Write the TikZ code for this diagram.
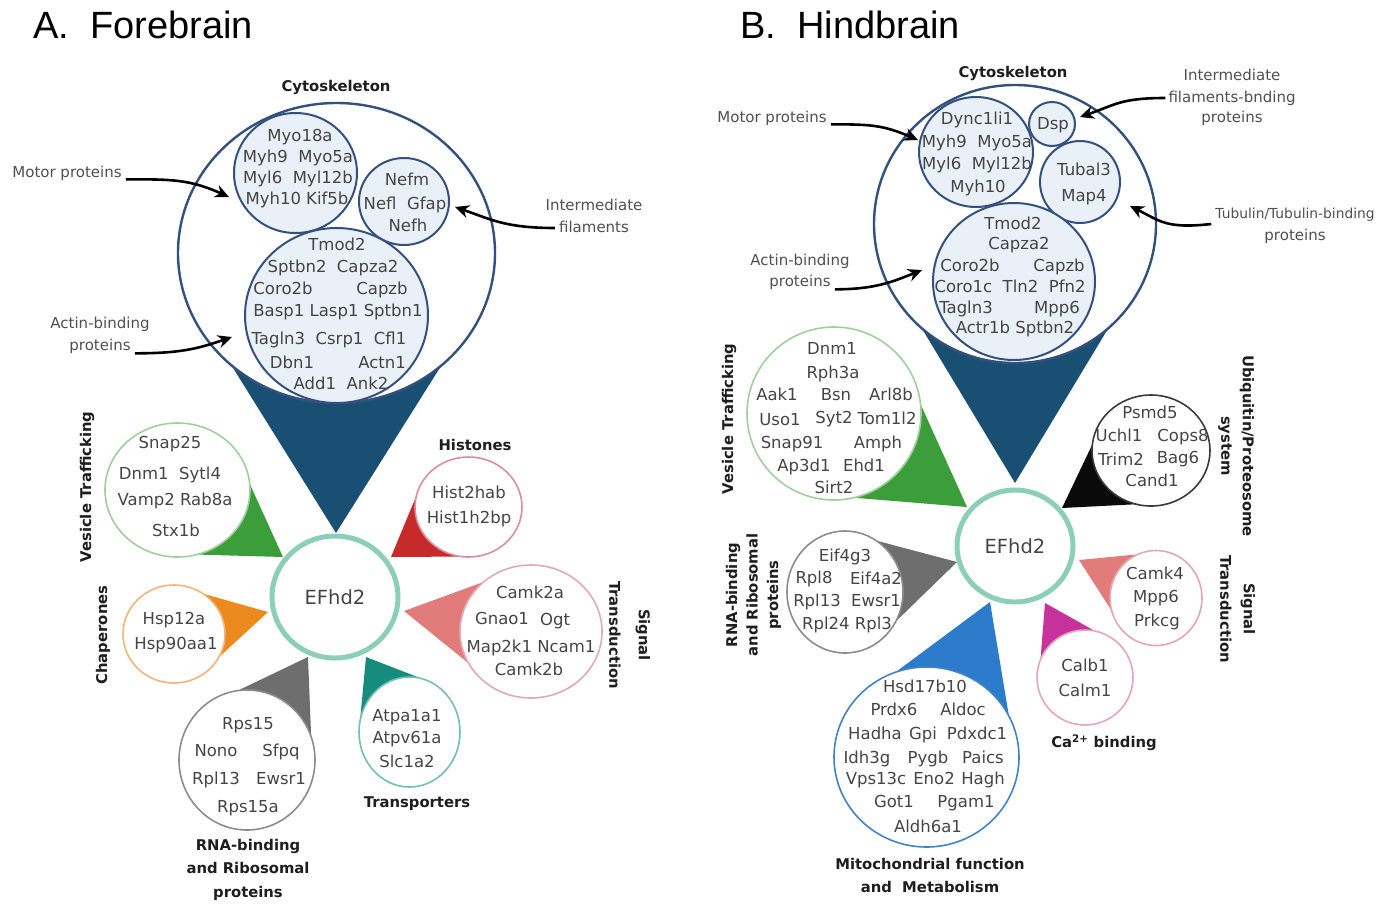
\documentclass[tikz,border=0pt]{standalone}
\usepackage{fontspec}
\setmainfont{DejaVu Sans}
\newfontfamily\ttlfont{Liberation Sans}
\usetikzlibrary{arrows.meta,calc,shapes.geometric}

\definecolor{cytline}{HTML}{34507E}
\definecolor{cytfill}{HTML}{E9F0F8}
\definecolor{cytblue}{HTML}{1A4F74}
\definecolor{efline}{HTML}{8CCFB8}
\definecolor{genetxt}{HTML}{454545}
\definecolor{lbltxt}{HTML}{505050}
\definecolor{cattxt}{HTML}{1E1E1E}
\definecolor{vesline}{HTML}{9FCF9A}
\definecolor{vesfill}{HTML}{3C9E3A}
\definecolor{hisline}{HTML}{D9909C}
\definecolor{hisfill}{HTML}{C62A2A}
\definecolor{sigline}{HTML}{E2A9B3}
\definecolor{sigfill}{HTML}{E27C7A}
\definecolor{chaline}{HTML}{F1B57A}
\definecolor{chafill}{HTML}{EC8A1E}
\definecolor{rnaline}{HTML}{8C8C8C}
\definecolor{rnafill}{HTML}{6E6E6E}
\definecolor{traline}{HTML}{74C0B2}
\definecolor{trafill}{HTML}{168C7E}
\definecolor{ubiline}{HTML}{3A3A3A}
\definecolor{ubifill}{HTML}{0A0A0A}
\definecolor{caline}{HTML}{E3A6BE}
\definecolor{cafill}{HTML}{C8329C}
\definecolor{mitline}{HTML}{4282C6}
\definecolor{mitfill}{HTML}{2C7CCB}

\tikzset{
 gene/.style={font=\fontsize{16.5}{19}\selectfont, text=genetxt, inner sep=0pt, anchor=base, yshift=-6pt},
 lbl/.style={font=\fontsize{15}{18}\selectfont, text=lbltxt, inner sep=0pt, anchor=base, yshift=-5pt},
 cat/.style={font=\bfseries\fontsize{14.8}{18}\selectfont, text=cattxt, inner sep=0pt, anchor=base, yshift=-5.5pt},
 catr/.style={font=\bfseries\fontsize{14.8}{18}\selectfont, text=cattxt, inner sep=0pt},
 ttl/.style={font=\ttlfont\fontsize{38}{44}\selectfont, text=black, inner sep=0pt, anchor=base west},
 grpc/.style={ellipse, fill=white, inner sep=0pt, outer sep=0pt},
 sub/.style={ellipse, fill=cytfill, draw=cytline, line width=2pt, inner sep=0pt, outer sep=0pt},
 ef/.style={ellipse, fill=white, draw=efline, line width=5pt, inner sep=0pt, outer sep=0pt, font=\fontsize{19.5}{22}\selectfont, text=genetxt},
 ptr/.style={draw=black, line width=2.6pt, -{Stealth[length=14pt,width=13pt]}},
 thin1/.style={line width=1.6pt},
}

\newcounter{gl}
\newcommand\gtx[3]{\stepcounter{gl}\node[gene] (g\arabic{gl}) at (#1,#2) {#3};}

% name, cx, cy, rx, ry, circle options, wedge colour, tip x, tip y ; \wgk = opening factor
\def\wgk{0.72}
\newcommand\grp[9]{%
  \pgfmathsetmacro\wgux{((#8)-(#2))/(#4)}%
  \pgfmathsetmacro\wguy{((#9)-(#3))/(#5)}%
  \pgfmathsetmacro\wgt{atan2(\wguy,\wgux)}%
  \pgfmathsetmacro\wga{\wgk*acos(1/sqrt(\wgux*\wgux+\wguy*\wguy))}%
  \fill[#7] (#8,#9) -- ($(#2,#3)+(\wgt+\wga:#4 and #5)$) -- ($(#2,#3)+(\wgt-\wga:#4 and #5)$) -- cycle;%
  \node[grpc,#6,minimum width=2*#4pt,minimum height=2*#5pt] (#1) at (#2,#3) {};%
}

\begin{document}
\begin{tikzpicture}[x=1pt,y=-1pt]
\useasboundingbox (0,0) rectangle (1394,903);
\fill[white] (0,0) rectangle (1394,903);

% ================= Panel A =================
\node[ttl] (ttlA) at (33,38) {A.\ \ Forebrain};

\grp{cytA}{336.5}{253}{158.5}{150}{draw=cytline, line width=2.4pt}{cytblue}{336}{533}
\node[sub, minimum width=123pt, minimum height=120pt] (motA) at (295.5,173) {};
\node[sub, minimum width=90pt, minimum height=87pt] (ifA) at (404,201.5) {};
\node[sub, minimum width=183pt, minimum height=175pt] (actA) at (336.5,315.5) {};

\grp{vesA}{177.5}{490}{72.5}{67}{draw=vesline, thin1}{vesfill}{283}{557}
\def\wgk{0.86}
\grp{hisA}{468.5}{507}{53.5}{50}{draw=hisline, thin1}{hisfill}{391}{557}
\def\wgk{0.68}
\grp{sigA}{531}{631.5}{71}{66.5}{draw=sigline, thin1}{sigfill}{404}{611}
\def\wgk{0.72}
\grp{chaA}{174}{634}{51}{49}{draw=chaline, thin1}{chafill}{268}{612}
\grp{rnaA}{247}{760}{68}{70}{draw=rnaline, thin1}{rnafill}{308}{657}
\def\wgk{0.9}
\grp{traA}{409.5}{732}{50.5}{55}{draw=traline, thin1}{trafill}{366}{657}
\def\wgk{0.72}

\node[ef, minimum width=126pt, minimum height=122pt] (efA) at (335,597) {EFhd2};

% texts A
\gtx{300}{135}{Myo18a}
\gtx{298}{156}{Myh9\ \ Myo5a}
\gtx{298}{177}{Myl6\ \ Myl12b}
\gtx{297}{198}{Myh10 Kif5b}
\gtx{407}{179}{Nefm}
\gtx{405}{203}{Nefl\ \ Gfap}
\gtx{408}{225}{Nefh}
\gtx{337}{244}{Tmod2}
\gtx{333}{266}{Sptbn2\ \ Capza2}
\gtx{283}{288}{Coro2b}
\gtx{382}{288}{Capzb}
\gtx{338}{310}{Basp1 Lasp1 Sptbn1}
\gtx{329}{338}{Tagln3\ \ Csrp1\ \ Cfl1}
\gtx{292}{362}{Dbn1}
\gtx{382}{362}{Actn1}
\gtx{341}{383}{Add1\ \ Ank2}

\gtx{170}{442}{Snap25}
\gtx{170}{473}{Dnm1\ \ Sytl4}
\gtx{175}{499}{Vamp2\ Rab8a}
\gtx{176}{530}{Stx1b}

\gtx{469}{492}{Hist2hab}
\gtx{469}{517}{Hist1h2bp}

\gtx{530}{592}{Camk2a}
\gtx{502}{618}{Gnao1}
\gtx{555}{619}{Ogt}
\gtx{531}{646}{Map2k1 Ncam1}
\gtx{529}{669}{Camk2b}

\gtx{174}{618}{Hsp12a}
\gtx{176}{643}{Hsp90aa1}

\gtx{248}{723}{Rps15}
\gtx{216}{750}{Nono}
\gtx{281}{750}{Sfpq}
\gtx{216}{778}{Rpl13}
\gtx{281}{778}{Ewsr1}
\gtx{248}{806}{Rps15a}

\gtx{407}{715}{Atpa1a1}
\gtx{407}{737}{Atpv61a}
\gtx{407}{761}{Slc1a2}

% category labels A
\node[cat] (cytlA) at (336,86) {Cytoskeleton};
\node[cat] (hislA) at (475,445) {Histones};
\node[cat] (tralA) at (417,802) {Transporters};
\node[cat] (rnal1A) at (248,845) {RNA-binding};
\node[cat] (rnal2A) at (248,868) {and Ribosomal};
\node[cat] (rnal3A) at (248,892) {proteins};
\node[catr, rotate=90] (veslA) at (87,487) {Vesicle Trafficking};
\node[catr, rotate=90] (chalA) at (103,635) {Chaperones};
\node[catr, rotate=-90] (sigl1A) at (643,635) {Signal};
\node[catr, rotate=-90] (sigl2A) at (615,635) {Transduction};

% pointer labels A
\node[lbl] (motlA) at (67,172) {Motor proteins};
\node[lbl] (ifl1A) at (594,205) {Intermediate};
\node[lbl] (ifl2A) at (594,227) {filaments};
\node[lbl] (acl1A) at (100,323) {Actin-binding};
\node[lbl] (acl2A) at (100,345) {proteins};
\coordinate (motinA) at (229,197);
\coordinate (ifinA) at (455,207);
\coordinate (acinA) at (232,337);
\draw[ptr] ([xshift=4pt,yshift=1pt]motlA.south east) .. controls +(45,0) and +(-40,-18) .. (motinA);
\draw[ptr] ([xshift=-4pt,yshift=4pt]ifl2A.base west) .. controls +(-50,0) and +(35,12) .. (ifinA);
\draw[ptr] ([xshift=4pt,yshift=0pt]acl2A.south east) .. controls +(45,0) and +(-35,12) .. (acinA);

% ================= Panel B =================
\node[ttl] (ttlB) at (740,38) {B.\ \ Hindbrain};

\grp{cytB}{1015}{224}{141}{139}{draw=cytline, line width=2.4pt}{cytblue}{1015}{483}
\node[sub, minimum width=114pt, minimum height=110pt] (motB) at (976,152) {};
\node[sub, minimum width=46pt, minimum height=44pt] (dspB) at (1052,124) {};
\node[sub, minimum width=80pt, minimum height=82pt] (tubB) at (1080,182) {};
\node[sub, minimum width=162pt, minimum height=157pt] (actB) at (1014,281.5) {};

\grp{vesB}{834}{413.5}{87}{86.5}{draw=vesline, thin1}{vesfill}{967}{507}
\grp{ubiB}{1151}{450.5}{59}{55.5}{draw=ubiline, thin1}{ubifill}{1062}{508}
\grp{rnaB}{845}{592}{58}{61}{draw=rnaline, thin1}{rnafill}{957}{562}
\grp{sigB}{1156}{598}{46}{47.5}{draw=sigline, thin1}{sigfill}{1079}{560}
\grp{caB}{1085}{677.5}{48}{47.5}{draw=caline, thin1}{cafill}{1045}{603}
\grp{mitB}{926.5}{757}{92.5}{90}{draw=mitline, thin1}{mitfill}{990}{602}

\node[ef, minimum width=116pt, minimum height=112pt] (efB) at (1015,546) {EFhd2};

% texts B
\gtx{977}{118}{Dync1li1}
\gtx{977}{141}{Myh9\ \ Myo5a}
\gtx{977}{163}{Myl6\ \ Myl12b}
\gtx{978}{186}{Myh10}
\gtx{1053}{123}{Dsp}
\gtx{1084}{169}{Tubal3}
\gtx{1084}{195}{Map4}
\gtx{1013}{223}{Tmod2}
\gtx{1019}{243}{Capza2}
\gtx{970}{265}{Coro2b}
\gtx{1059}{265}{Capzb}
\gtx{1010}{286}{Coro1c\ \ Tln2\ \ Pfn2}
\gtx{966}{307}{Tagln3}
\gtx{1057}{307}{Mpp6}
\gtx{1015}{327}{Actr1b\ Sptbn2}

\gtx{832}{348}{Dnm1}
\gtx{833}{372}{Rph3a}
\gtx{777}{394}{Aak1}
\gtx{836}{394}{Bsn}
\gtx{891}{394}{Arl8b}
\gtx{780}{419}{Uso1}
\gtx{834}{417}{Syt2}
\gtx{887}{418}{Tom1l2}
\gtx{792}{442}{Snap91}
\gtx{878}{442}{Amph}
\gtx{804}{465}{Ap3d1}
\gtx{864}{465}{Ehd1}
\gtx{834}{487}{Sirt2}

\gtx{1150}{412}{Psmd5}
\gtx{1119}{435}{Uchl1}
\gtx{1183}{435}{Cops8}
\gtx{1121}{459}{Trim2}
\gtx{1178}{457}{Bag6}
\gtx{1152}{480}{Cand1}

\gtx{845}{555}{Eif4g3}
\gtx{814}{577}{Rpl8}
\gtx{876}{578}{Eif4a2}
\gtx{817}{600}{Rpl13}
\gtx{876}{600}{Ewsr1}
\gtx{847}{623}{Rpl24 Rpl3}

\gtx{1155}{573}{Camk4}
\gtx{1156}{596}{Mpp6}
\gtx{1157}{620}{Prkcg}

\gtx{1085}{665}{Calb1}
\gtx{1085}{690}{Calm1}

\gtx{925}{686}{Hsd17b10}
\gtx{894}{709}{Prdx6}
\gtx{963}{709}{Aldoc}
\gtx{875}{733}{Hadha}
\gtx{923}{733}{Gpi}
\gtx{977}{733}{Pdxdc1}
\gtx{867}{757}{Idh3g}
\gtx{928}{757}{Pygb}
\gtx{983}{757}{Paics}
\gtx{876}{778}{Vps13c}
\gtx{934}{778}{Eno2}
\gtx{983}{778}{Hagh}
\gtx{894}{801}{Got1}
\gtx{966}{801}{Pgam1}
\gtx{928}{826}{Aldh6a1}

% category labels B
\node[cat] (cytlB) at (1013,72) {Cytoskeleton};
\node[cat] (calB) at (1104,742) {Ca\textsuperscript{2+} binding};
\node[cat] (mitl1B) at (930,864) {Mitochondrial function};
\node[cat] (mitl2B) at (930,887) {and\ \ Metabolism};
\node[catr, rotate=90] (veslB) at (729,419) {Vesicle Trafficking};
\node[catr, rotate=90] (rnal1B) at (733,595) {RNA-binding};
\node[catr, rotate=90] (rnal2B) at (752,595) {and Ribosomal};
\node[catr, rotate=90] (rnal3B) at (774,595) {proteins};
\node[catr, rotate=-90] (ubil1B) at (1247,446) {Ubiquitin/Proteosome};
\node[catr, rotate=-90] (ubil2B) at (1225,446) {system};
\node[catr, rotate=-90] (sigl1B) at (1248,609) {Signal};
\node[catr, rotate=-90] (sigl2B) at (1226,609) {Transduction};

% pointer labels B
\node[lbl] (motlB) at (772,117) {Motor proteins};
\node[lbl] (ifl1B) at (1232,75) {Intermediate};
\node[lbl] (ifl2B) at (1232,97) {filaments-bnding};
\node[lbl] (ifl3B) at (1232,117) {proteins};
\node[lbl, font=\fontsize{13.8}{17}\selectfont] (tul1B) at (1295,213) {Tubulin/Tubulin-binding};
\node[lbl] (tul2B) at (1295,235) {proteins};
\node[lbl] (acl1B) at (800,260) {Actin-binding};
\node[lbl] (acl2B) at (800,281) {proteins};
\coordinate (motinB) at (918,140);
\coordinate (ifinB) at (1080,117);
\coordinate (tuinB) at (1130,206);
\coordinate (acinB) at (922,270);
\draw[ptr] ([xshift=4pt,yshift=1pt]motlB.south east) .. controls +(40,0) and +(-35,-15) .. (motinB);
\draw[ptr] ([xshift=-3pt,yshift=4pt]ifl2B.base west) .. controls +(-45,0) and +(35,-12) .. (ifinB);
\draw[ptr] ([xshift=-4pt,yshift=-6pt]tul1B.base west) .. controls +(-45,5) and +(30,15) .. (tuinB);
\draw[ptr] ([xshift=4pt,yshift=0pt]acl2B.south east) .. controls +(40,0) and +(-30,12) .. (acinB);

\end{tikzpicture}
\end{document}
